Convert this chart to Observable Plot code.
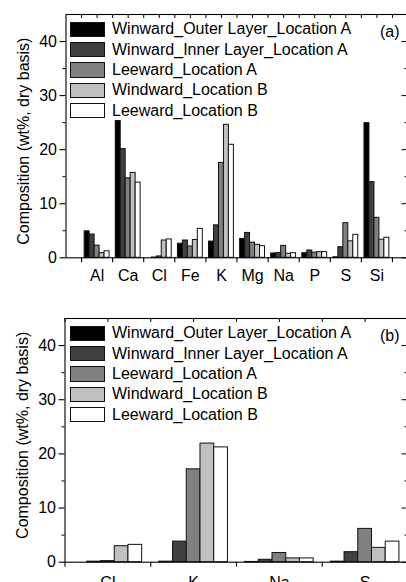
<!DOCTYPE html>
<html>
<head>
<meta charset="utf-8">
<script src="https://cdn.jsdelivr.net/npm/d3@7"></script>
<script src="https://cdn.jsdelivr.net/npm/@observablehq/plot@0.6"></script>
<style>
  html, body { margin: 0; padding: 0; background: #fff; overflow: hidden; }
  body { width: 406px; height: 582px; font-family: Arial, "Liberation Sans", sans-serif; }
  .panel { position: relative; width: 406px; overflow: visible; }
  .legend { position: absolute; left: 70px; font-size: 16px; color: #000; }
  .row { display: flex; align-items: center; height: 20.3px; }
  .sw { width: 35px; height: 15.5px; box-sizing: border-box; border: 1.2px solid #111; margin-right: 7px; }
  .tag { position: absolute; font-size: 16px; color: #000; }
</style>
</head>
<body>
<div id="top" class="panel" style="height:290px"></div>
<div id="bot" class="panel" style="height:292px"></div>
<script>
// ---- data ----
const series = ["Winward_Outer Layer_Location A", "Winward_Inner Layer_Location A", "Leeward_Location A", "Windward_Location B", "Leeward_Location B"];
const colors = ["#000000", "#404040", "#808080", "#c0c0c0", "#ffffff"];

const catsA = ["Al", "Ca", "Cl", "Fe", "K", "Mg", "Na", "P", "S", "Si"];
const outerA   = [4.9, 25.3, 0,    2.6,  3.0,  3.5,  0.8,  0.85, 0.1,  24.9];
const innerA   = [4.3, 20.1, 0.05, 3.2,  6.0,  4.6,  0.9,  1.35, 1.95, 14.0];
const leeA_A   = [2.25, 14.7, 0.25, 2.1, 17.55, 2.8, 2.2,  0.95, 6.4,  7.4];
const windB_A  = [0.86, 15.7, 3.2, 3.3,  24.6, 2.4,  0.75, 1.05, 3.05, 3.35];
const leeB_A   = [1.2, 13.9, 3.4,  5.35, 20.9, 2.15, 0.85, 1.05, 4.25, 3.7];

const catsB = ["Cl", "K", "Na", "S"];
const outerB  = [0,    0.1,   0.05, 0.1];
const innerB  = [0.1,  3.8,   0.45, 1.85];
const leeA_B  = [0.2,  17.15, 1.7,  6.15];
const windB_B = [2.95, 21.9,  0.7,  2.65];
const leeB_B  = [3.2,  21.2,  0.7,  3.8];

const yLabel = "Composition (wt%, dry basis)";
const yMajor = [0, 10, 20, 30, 40];
const yMinor = [5, 15, 25, 35];

function makeRows(cats, arrays) {
  const rows = [];
  const w = 0.16;
  cats.forEach((c, i) => {
    arrays.forEach((arr, j) => {
      const x1 = (i + 1) + (j - 2.5) * w;
      rows.push({cat: c, series: series[j], value: arr[i], x1, x2: x1 + w});
    });
  });
  return rows;
}

function chart(el, {cats, arrays, height, mt, mb, xDom, ml, mr, tag, labelDy, xPad}) {
  const rows = makeRows(cats, arrays);
  const width = 406;
  const plotW = width - ml - mr;
  const plotH = height - mt - mb;
  const n = cats.length;
  const centers = d3.range(1, n + 1);
  const bounds = d3.range(0.5, n + 1, 1);
  const halfTicks = d3.range(0.5, xDom[1] + 0.01, 0.5);
  const fnt = "Arial, 'Liberation Sans', sans-serif";
  const svg = Plot.plot({
    width, height,
    marginTop: mt, marginBottom: mb, marginLeft: ml, marginRight: mr,
    style: {fontFamily: fnt, fontSize: "16px", background: "transparent", color: "#000", overflow: "visible"},
    x: {domain: xDom, axis: null},
    y: {domain: [0, 45], axis: null},
    color: {domain: series, range: colors},
    marks: [
      Plot.rectY(rows, {x1: "x1", x2: "x2", y: "value", fill: "series", stroke: "#111", strokeWidth: 1}),
      Plot.frame({stroke: "#000", strokeWidth: 1.1}),
      Plot.axisY({ticks: yMajor, tickSize: 6, tickPadding: 3, fontSize: 16, label: null, strokeWidth: 1.1}),
      Plot.axisY({ticks: yMinor, tickSize: 3, tickFormat: () => "", label: null}),
      Plot.tickY(yMajor, {y: d => d, insetLeft: plotW - 6, stroke: "#000"}),
      Plot.tickY(yMinor, {y: d => d, insetLeft: plotW - 3, stroke: "#000"}),
      Plot.axisX({ticks: bounds, tickSize: 5, tickFormat: () => "", label: null, strokeWidth: 1.1}),
      Plot.axisX({ticks: centers, tickSize: 0, tickPadding: xPad, tickFormat: i => cats[i - 1], fontSize: 16, label: null}),
      Plot.tickX(halfTicks, {x: d => d, insetBottom: plotH - 4, stroke: "#000"}),
      Plot.text([yLabel], {frameAnchor: "left", rotate: -90, dx: -37, dy: labelDy, textAnchor: "middle", lineAnchor: "bottom", fontSize: 16})
    ]
  });
  el.appendChild(svg);

  const lg = document.createElement("div");
  lg.className = "legend";
  lg.style.top = (mt + 5.3) + "px";
  series.forEach((s, j) => {
    const r = document.createElement("div");
    r.className = "row";
    const sw = document.createElement("div");
    sw.className = "sw";
    sw.style.background = colors[j];
    const t = document.createElement("span");
    t.textContent = s;
    r.appendChild(sw); r.appendChild(t);
    lg.appendChild(r);
  });
  el.appendChild(lg);

  const tg = document.createElement("div");
  tg.className = "tag";
  tg.textContent = tag;
  tg.style.left = "380px";
  tg.style.top = (mt + 9) + "px";
  el.appendChild(tg);
}

chart(document.getElementById("top"), {
  cats: catsA, arrays: [outerA, innerA, leeA_A, windB_A, leeB_A],
  height: 290, mt: 14, mb: 32.7, xDom: [0, 11], ml: 65.5, mr: -1.5, tag: "(a)", labelDy: 5, xPad: 12
});
chart(document.getElementById("bot"), {
  cats: catsB, arrays: [outerB, innerB, leeA_B, windB_B, leeB_B],
  height: 300, mt: 28, mb: 28.3, xDom: [0.5, 4.5], ml: 64.5, mr: -1.5, tag: "(b)", labelDy: -5, xPad: 14
});
</script>
</body>
</html>
